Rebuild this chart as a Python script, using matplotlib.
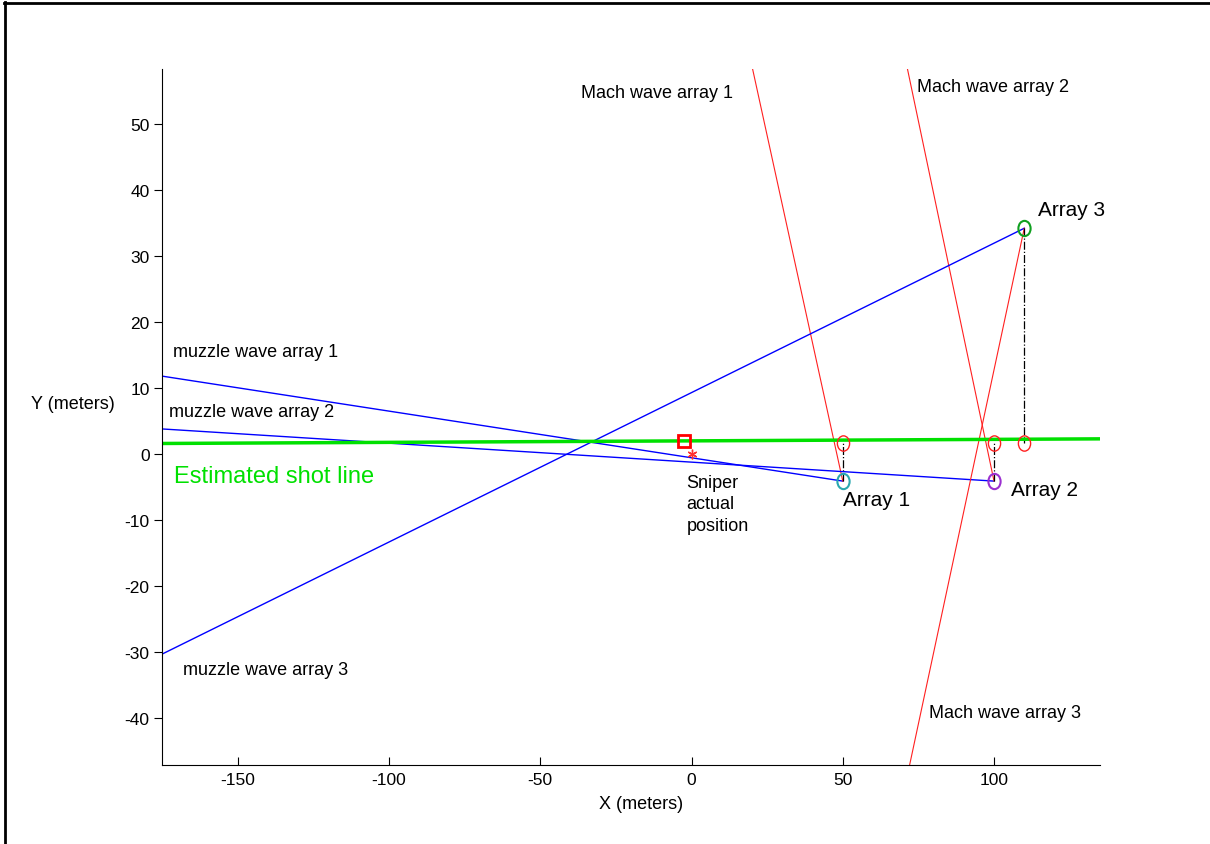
import matplotlib.pyplot as plt
from matplotlib.lines import Line2D
from matplotlib.path import Path

plt.rcParams['font.family'] = ['Liberation Sans', 'DejaVu Sans']
plt.rcParams['axes.unicode_minus'] = False

# sensor arrays (x, y) in meters
array_names = ["Array 1", "Array 2", "Array 3"]
array_x = [50, 100, 110]
array_y = [-4.1, -4.1, 34.2]
array_colors = ["#2aa8b0", "#9b30d0", "#10a020"]

# projections of arrays onto the estimated shot line
proj_x = [50, 100, 110]
proj_y = [1.6, 1.7, 1.7]

# estimated shot line endpoints
shot_x = [-175, 135]
shot_y = [1.6, 2.3]

# muzzle wave bearing lines: far end points
muzzle_x = [-175, -175, -175]
muzzle_y = [11.8, 3.8, -30.3]

# Mach wave lines: far end points
mach_x = [20.2, 71.4, 72.1]
mach_y = [58.3, 58.3, -47.1]

sniper_x, sniper_y = 0, 0
est_x, est_y = -2.4, 2.0

# MATLAB style ellipse marker (taller than wide)
circ = Path.unit_circle()
ellipse = Path(circ.vertices * [0.8, 1.0], circ.codes)

fig = plt.figure(figsize=(12.1, 8.45), dpi=100)
ax = fig.add_axes([0.134, 0.0935, 0.775, 0.8235])

for i in range(3):
    ax.plot([muzzle_x[i], array_x[i]], [muzzle_y[i], array_y[i]], color="#0000ff", lw=1)
    ax.plot([mach_x[i], array_x[i]], [mach_y[i], array_y[i]], color="#ff2020", lw=0.8)
    ax.plot([array_x[i], proj_x[i]], [array_y[i], proj_y[i]], color="black", lw=0.9, ls="-.")

ax.plot(shot_x, shot_y, color="#00e000", lw=2.5)

for i in range(3):
    ax.plot(proj_x[i], proj_y[i], marker=ellipse, mfc="none", mec="#ff2020", ms=11, mew=1)
    ax.plot(array_x[i], array_y[i], marker=ellipse, mfc="none", mec=array_colors[i], ms=11, mew=1.5)

ax.plot(est_x, est_y, "s", mfc="none", mec="#ff0000", ms=9, mew=2)
ax.plot(sniper_x, sniper_y, marker=(6, 2, 0), color="#ff3030", ms=7, mew=1)

fs = 13
ax.text(-36.4, 54.7, "Mach wave array 1", fontsize=fs, va="center")
ax.text(74.7, 55.6, "Mach wave array 2", fontsize=fs, va="center")
ax.text(78.4, -39.1, "Mach wave array 3", fontsize=fs, va="center")
ax.text(-171.3, 15.5, "muzzle wave array 1", fontsize=fs, va="center")
ax.text(-172.6, 6.4, "muzzle wave array 2", fontsize=fs, va="center")
ax.text(-168, -32.7, "muzzle wave array 3", fontsize=fs, va="center")
ax.text(-171, -3.3, "Estimated shot line", fontsize=17, color="#00e000", va="center")
ax.text(-1.7, -3.0, "Sniper\nactual\nposition", fontsize=fs, va="top", linespacing=1.35)
ax.text(50, -6.9, array_names[0], fontsize=15, va="center")
ax.text(105.5, -5.3, array_names[1], fontsize=15, va="center")
ax.text(114.4, 37.0, array_names[2], fontsize=15, va="center")

ax.set_xlim(-175, 135)
ax.set_ylim(-47.1, 58.3)
ax.set_xticks([-150, -100, -50, 0, 50, 100])
ax.set_yticks([-40, -30, -20, -10, 0, 10, 20, 30, 40, 50])
ax.tick_params(axis="x", direction="in", length=6, labelsize=12.5, pad=5)
ax.tick_params(axis="y", direction="out", length=6, labelsize=12.5, pad=3)
ax.spines["top"].set_visible(False)
ax.spines["right"].set_visible(False)
ax.set_xlabel("X (meters)", fontsize=13)
ax.set_ylabel("Y (meters)", fontsize=13, rotation=0, va="center", ha="center")
ax.yaxis.set_label_coords(-0.0955, 0.52)
ax.xaxis.set_label_coords(0.511, -0.056)
ax.xaxis.label.set_va("center")

# figure frame on top and left
fig.add_artist(Line2D([0.004, 0.004], [0, 0.996], transform=fig.transFigure, color="black", lw=2))
fig.add_artist(Line2D([0.003, 1], [0.995, 0.995], transform=fig.transFigure, color="black", lw=2))

fig.savefig("out.png", dpi=100)
